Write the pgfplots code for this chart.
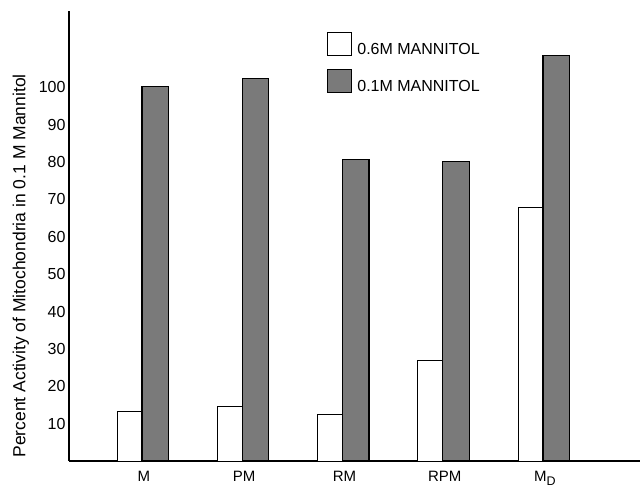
\documentclass[border=0pt]{standalone}
\usepackage{fontspec}
\setmainfont{Liberation Sans}
\usepackage{pgfplots}
\pgfplotsset{compat=1.18}
\begin{document}
\begin{tikzpicture}
\path[use as bounding box] (-69pt,-26pt) rectangle (572pt,461pt);
\begin{axis}[
  scale only axis, width=571pt, height=449.5pt,
  xmin=-0.728, xmax=4.968, ymin=0, ymax=120.3,
  axis x line*=bottom, axis y line*=left,
  axis line style={line width=1.1pt, -},
  ytick={10,20,...,100},
  xtick={0,...,4},
  xticklabels={M,PM,RM,RPM,{M\raisebox{-3.5pt}{\fontsize{12.5}{12.5}\selectfont D}}},
  major tick length=0pt,
  /pgf/number format/assume math mode=true,
  y tick label style={font=\fontsize{16}{16}\selectfont},
  x tick label style={font=\fontsize{15}{15}\selectfont, yshift=-7pt, xshift=2pt, anchor=north},
  every axis y label/.style={at={(axis description cs:-0.0841,0.434)}, rotate=90, anchor=center},
  ylabel={\fontsize{17.5}{17.5}\selectfont Percent Activity of Mitochondria in 0.1 M Mannitol},
  legend style={at={(axis description cs:0.4518,0.955)}, anchor=north west, draw=none, fill=none,
    font=\fontsize{16}{16}\selectfont, row sep=11pt, inner sep=0pt, cells={anchor=west}},
  legend image code/.code={\draw[#1] (0pt,-6pt) rectangle (24pt,17pt); \path (27pt,0pt);},
]
\addplot[ybar, bar width=0.249, bar shift=-0.1245, fill=white, draw=black, line width=0.8pt]
  coordinates {(0,13.3) (1,14.7) (2,12.5) (3,26.9) (4,67.9)};
\addlegendentry{0.6M MANNITOL}
\addplot[ybar, bar width=0.264, bar shift=0.132, fill=black!52, draw=black, line width=1.2pt]
  coordinates {(0,100.2) (1,102.4) (2,80.7) (3,80.2) (4,108.6)};
\addlegendentry{0.1M MANNITOL}
\end{axis}
\end{tikzpicture}
\end{document}
